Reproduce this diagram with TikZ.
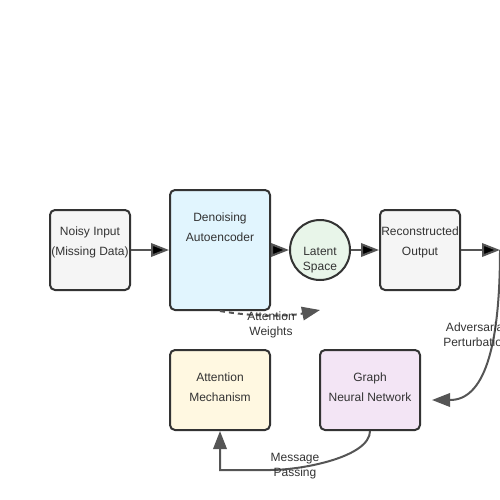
\documentclass[tikz,border=0pt]{standalone}
\usepackage{fontspec}
\setmainfont{Liberation Sans}
\usetikzlibrary{arrows.meta}

\definecolor{linegray}{HTML}{333333}
\definecolor{edgegray}{HTML}{555555}
\definecolor{plaingray}{HTML}{F5F5F5}
\definecolor{daeblue}{HTML}{E1F5FE}
\definecolor{latgreen}{HTML}{E8F5E9}
\definecolor{attyellow}{HTML}{FFF8E1}
\definecolor{gnnpurple}{HTML}{F3E5F5}

\begin{document}
\begin{tikzpicture}[x=1pt,y=-1pt,
        box/.style={draw=linegray,line width=2pt,rounded corners=5pt,inner sep=0pt},
        boxtext/.style={align=center,inner sep=0pt,text=linegray,font=\fontsize{12}{20}\selectfont},
        lbl/.style={align=center,inner sep=0pt,text=linegray,font=\fontsize{12}{15}\selectfont},
        link/.style={draw=edgegray,line width=2pt,-{Triangle[length=18pt,width=13.5pt]}}]
        \useasboundingbox (0,0) rectangle (500,500);

        \node[box,fill=plaingray,minimum width=80pt,minimum height=80pt,
            label={[boxtext,yshift=8pt]center:{Noisy Input\\(Missing Data)}}] (inp) at (90,250) {};
        \node[box,fill=daeblue,minimum width=100pt,minimum height=120pt,
            label={[boxtext,yshift=23pt]center:{Denoising\\Autoencoder}}] (dae) at (220,250) {};
        \node[circle,draw=linegray,line width=2pt,fill=latgreen,minimum size=60pt,inner sep=0pt,
            label={[lbl,yshift=-10.5pt]center:{Latent\\Space}}] (lat) at (320,250) {};
        \node[box,fill=plaingray,minimum width=80pt,minimum height=80pt,
            label={[boxtext,yshift=8pt]center:{Reconstructed\\Output}}] (out) at (420,250) {};
        \node[box,fill=attyellow,minimum width=100pt,minimum height=80pt,
            label={[boxtext,yshift=3pt]center:{Attention\\Mechanism}}] (att) at (220,390) {};
        \node[box,fill=gnnpurple,minimum width=100pt,minimum height=80pt,
            label={[boxtext,yshift=3pt]center:{Graph\\Neural Network}}] (gnn) at (370,390) {};

        \coordinate (advin)  at (500,250);
        \coordinate (advout) at (432,400);
        \coordinate (attw)   at (320,310);

        \path [link] (inp) edge (dae);
        \path [link] (dae) edge (lat);
        \path [link] (lat) edge (out);
        \path [link] (out) edge (advin);

        \draw [link] (advin) .. controls (500,350) and (483.3,400) .. (450,400) -- (advout);
        \draw [link,dash pattern=on 5pt off 4pt] (dae.south) .. controls (253.3,316.7) and (286.7,316.7) .. (attw);
        \draw [link] (gnn.south) .. controls (370,456.7) and (303.3,470) .. (270,470) -- (220,470) -- (att.south);

        \node[lbl] (attwl) at (271,324.5) {Attention\\Weights};
        \node[lbl] (advl)  at (476,334.5) {Adversarial\\Perturbation};
        \node[lbl] (mpl)   at (295,466)   {Message\\Passing};

    \end{tikzpicture}
\end{document}
